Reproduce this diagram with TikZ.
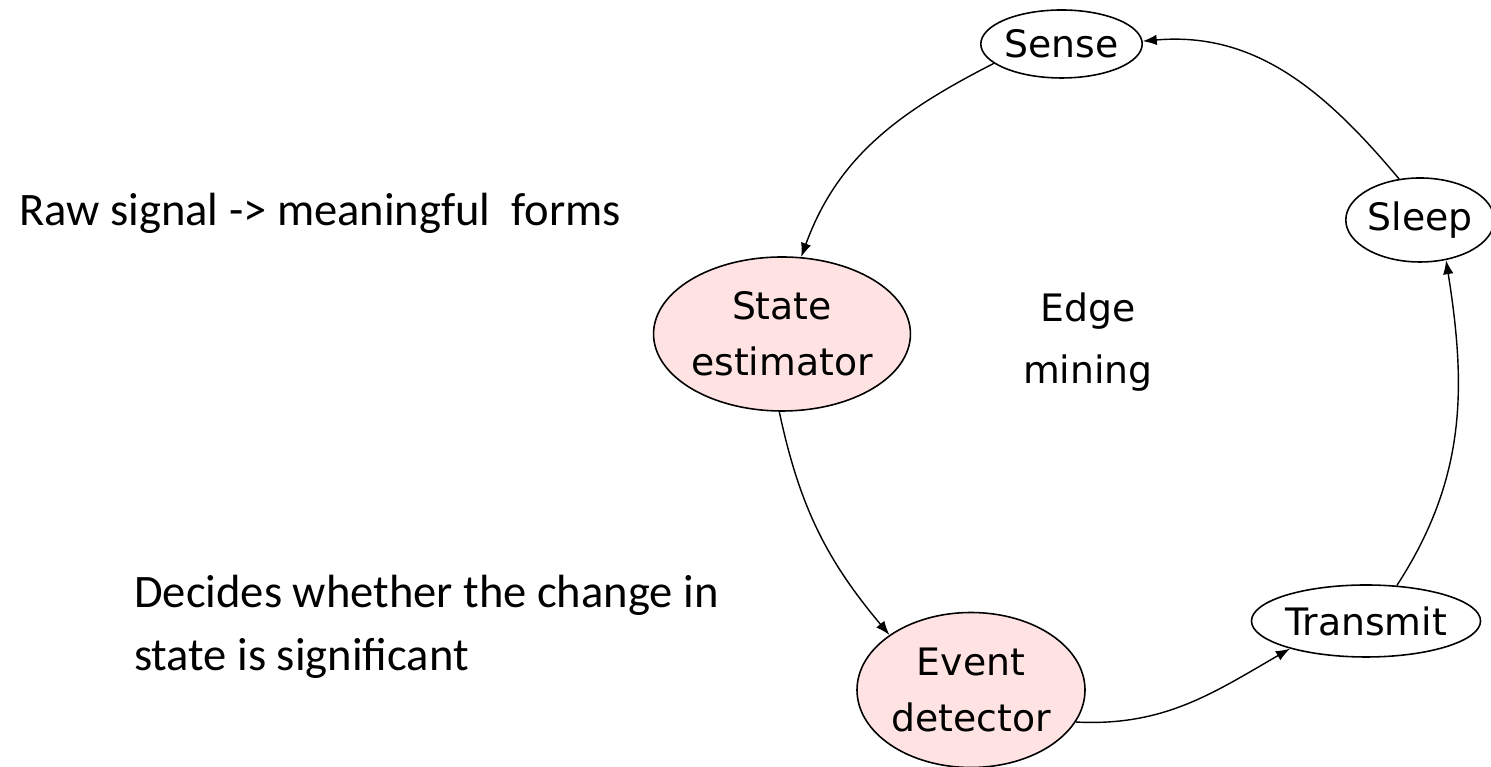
\documentclass[tikz,border=0pt]{standalone}
\usepackage{fontspec}
\setmainfont{Carlito}
\newfontfamily\dotfont{DejaVu Sans}
\usetikzlibrary{shapes.geometric,arrows.meta}

\begin{document}
\begin{tikzpicture}[
    stage/.style={ellipse, draw, line width=0.9pt, inner sep=0pt, align=center,
                  font=\dotfont\fontsize{21.5}{32}\selectfont},
    flow/.style={-{Latex[length=8pt,width=6pt]}, line width=0.8pt},
    note/.style={align=left, font=\fontsize{26.5}{36}\selectfont}
  ]
   \def\pinkfill{red!11!white}
   \useasboundingbox (0,0) rectangle (29.82,15.34);
   % stages on the loop
   \node[stage, minimum width=2.94cm, minimum height=1.36cm] (sense) at (21.23,14.46) {Sense};
   \node[stage, minimum width=2.80cm, minimum height=1.68cm] (sleep) at (28.40,10.94) {Sleep};
   \node[stage, fill=\pinkfill, minimum width=5.04cm, minimum height=3.08cm] (state) at (15.64,8.66) {State\\estimator};
   \node[stage, fill=\pinkfill, minimum width=4.56cm, minimum height=3.10cm] (event) at (19.42,1.54) {Event\\detector};
   \node[stage, minimum width=4.16cm, minimum height=1.44cm] (transmit) at (27.32,2.92) {Transmit};
   \node[align=center, font=\dotfont\fontsize{21.5}{35}\selectfont] (edge) at (21.76,8.50) {Edge\\mining};
   % notes on the left
   \node[note, anchor=base west] (raw) at (0.26,10.82) {Raw signal -> meaningful\ \ forms};
   \node[note, anchor=west] (decides) at (2.56,2.80) {Decides whether the change in\\state is significant};
   % arcs
   \draw[flow] (sense.196) to[out=207, in=70] (state.76);
   \draw[flow] (state.268) to[out=282, in=130] (event.146);
   \draw[flow] (event.-17) to[out=-3, in=210] (transmit.200);
   \draw[flow] (transmit.49) to[out=57, in=279] (sleep.303);
   \draw[flow] (sleep.117) to[out=130, in=5] (sense.2);
\end{tikzpicture}
\end{document}
